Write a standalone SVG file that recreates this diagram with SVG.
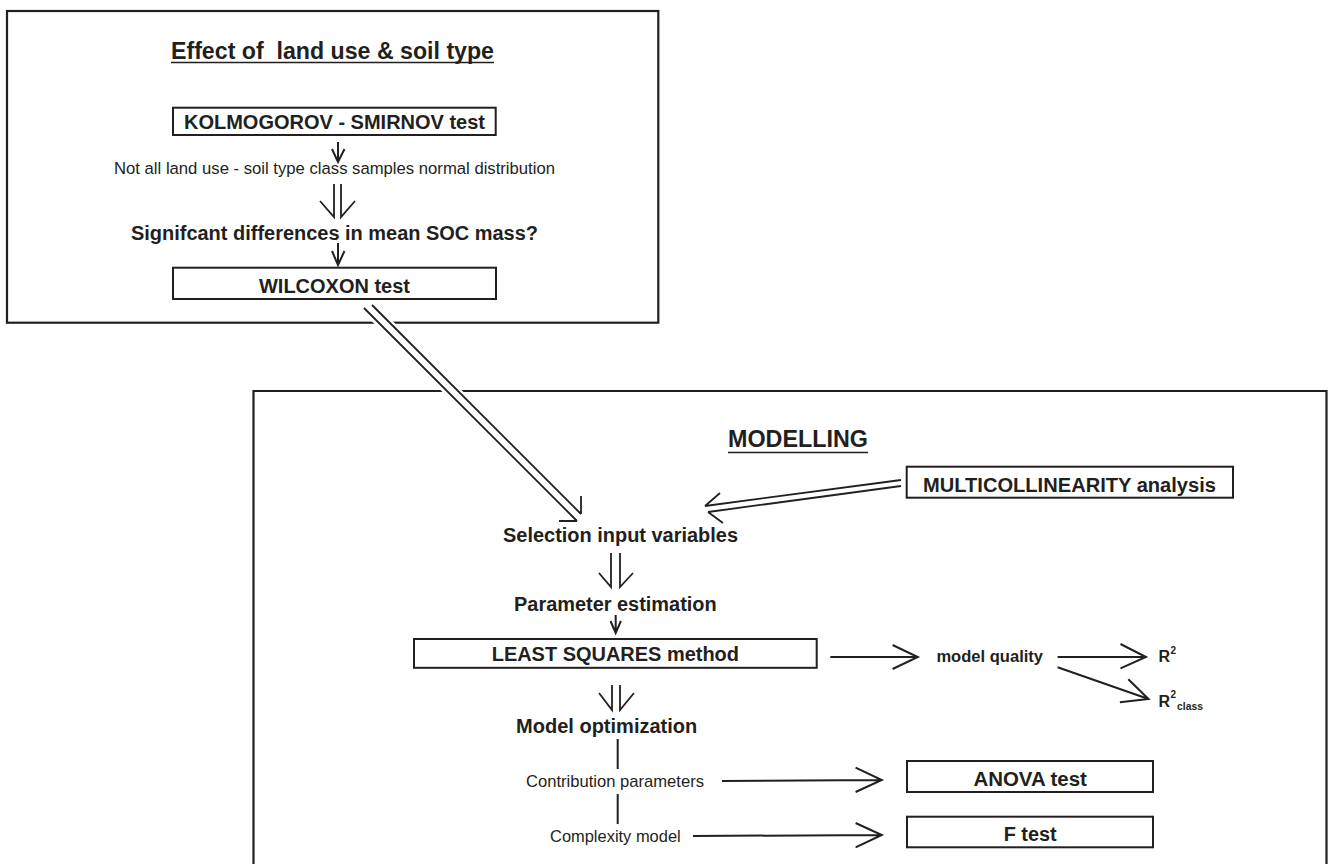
<svg xmlns="http://www.w3.org/2000/svg" width="1328" height="864" viewBox="0 0 1328 864">
<style>
.frame{fill:none;stroke:#231f20;stroke-width:2.2}
.box{fill:#fff;stroke:#231f20;stroke-width:2}
.b{font-family:"Liberation Sans",Arial,sans-serif;font-weight:bold;fill:#231f20;font-size:20px}
.r{font-family:"Liberation Sans",Arial,sans-serif;fill:#231f20;font-size:16.6px}
.ul{stroke:#231f20;stroke-width:1.7}
.ln{fill:none;stroke:#231f20;stroke-width:2}
.dl{fill:none;stroke:#231f20;stroke-width:1.8}
</style>
<rect width="1328" height="864" fill="#fff"/>
<g id="frame-effect">
<rect class="frame" x="7" y="11" width="651.3" height="311.7"/>
<text class="b" x="171" y="59" style="font-size:23px" textLength="323" lengthAdjust="spacingAndGlyphs" xml:space="preserve">Effect of  land use &amp; soil type</text>
<line class="ul" x1="171" y1="62.5" x2="494" y2="62.5"/>
</g>
<g id="frame-modelling">
<path class="frame" d="M253.5,870 V391 H1326.5 V870"/>
<text class="b" x="728" y="447" style="font-size:23px" textLength="140" lengthAdjust="spacingAndGlyphs">MODELLING</text>
<line class="ul" x1="728" y1="452.5" x2="868" y2="452.5"/>
</g>
<g id="node-ks">
<rect class="box" x="173" y="107.7" width="322.7" height="27.3"/>
<text class="b" x="184" y="129" textLength="301" lengthAdjust="spacingAndGlyphs">KOLMOGOROV - SMIRNOV test</text>
</g>
<g id="node-notall">
<text class="r" x="114" y="174" style="font-size:16.7px" textLength="441" lengthAdjust="spacingAndGlyphs">Not all land use - soil type class samples normal distribution</text>
</g>
<g id="node-signif">
<text class="b" x="131" y="240" textLength="407" lengthAdjust="spacingAndGlyphs">Signifcant differences in mean SOC mass?</text>
</g>
<g id="node-wilcoxon">
<rect class="box" x="173" y="267.7" width="323" height="31.3"/>
<text class="b" x="259" y="292.7" textLength="151" lengthAdjust="spacingAndGlyphs">WILCOXON test</text>
</g>
<g id="node-multi">
<rect class="box" x="906.7" y="466.7" width="326.3" height="31"/>
<text class="b" x="923" y="491.7" textLength="293" lengthAdjust="spacingAndGlyphs">MULTICOLLINEARITY analysis</text>
</g>
<g id="node-selection">
<text class="b" x="503" y="541.7" textLength="235" lengthAdjust="spacingAndGlyphs">Selection input variables</text>
</g>
<g id="node-parameter">
<text class="b" x="514" y="610.7" textLength="202.7" lengthAdjust="spacingAndGlyphs">Parameter estimation</text>
</g>
<g id="node-least">
<rect class="box" x="414" y="639" width="402.7" height="28.8"/>
<text class="b" x="491.7" y="660.7" textLength="247.3" lengthAdjust="spacingAndGlyphs">LEAST SQUARES method</text>
</g>
<g id="node-quality">
<text class="b" x="936.4" y="662.3" style="font-size:16.5px" textLength="106.7" lengthAdjust="spacingAndGlyphs">model quality</text>
</g>
<g id="node-r2">
<text class="b" x="1158.6" y="662.3" style="font-size:16px">R<tspan x="1170.4" y="654" style="font-size:10px">2</tspan></text>
</g>
<g id="node-r2class">
<text class="b" x="1158.6" y="707.3" style="font-size:16px">R<tspan x="1170.4" y="698.3" style="font-size:10px">2</tspan><tspan x="1177" y="710" style="font-size:10.4px">class</tspan></text>
</g>
<g id="node-optimization">
<text class="b" x="516" y="732.7" textLength="181.3" lengthAdjust="spacingAndGlyphs">Model optimization</text>
</g>
<g id="node-contribution">
<text class="r" x="526" y="786.7" textLength="178" lengthAdjust="spacingAndGlyphs">Contribution parameters</text>
</g>
<g id="node-complexity">
<text class="r" x="550" y="841.7" textLength="130.7" lengthAdjust="spacingAndGlyphs">Complexity model</text>
</g>
<g id="node-anova">
<rect class="box" x="907" y="761" width="246" height="31"/>
<text class="b" x="973.4" y="786" textLength="113.5" lengthAdjust="spacingAndGlyphs">ANOVA test</text>
</g>
<g id="node-ftest">
<rect class="box" x="907" y="816.7" width="246" height="30.6"/>
<text class="b" x="1003.7" y="841" textLength="53" lengthAdjust="spacingAndGlyphs">F test</text>
</g>
<g id="connectors">
<line x1="370" y1="309" x2="560" y2="499" stroke="#fff" stroke-width="15"/>
<path class="dl" d="M364,308 L577,521 M372,305 L581,514 M581,514 L581,496 M577,521 L559,521"/>
<path class="dl" d="M901,480 L705,506 M901,486 L708,512 M705,506 L720,493 M708,512 L723,523"/>
<path class="dl" d="M334,184 V217 L320,201 M341,184 V217 L355,201"/>
<path class="dl" d="M611,553 V587 L599,573 M620,553 V587 L633,573"/>
<path class="dl" d="M612,685 V710 L599,693 M620,685 V710 L634,693"/>
<path class="ln" d="M338,142 V162 M332,149 L338,162 L344.5,149"/>
<path class="ln" d="M338,243 V265 M332,251 L338,265 L344.5,251"/>
<path class="ln" d="M615.7,615 V633 M610.5,621 L615.7,633 L620.9,621"/>
<path class="ln" d="M830.3,657 H917.8 M892.6,645 L917.8,657 L892.6,669"/>
<path class="ln" d="M1057.6,657 H1146 M1120.5,644 L1146,657 L1120.5,668.3"/>
<path class="ln" d="M1057.6,667.3 L1148.5,699 M1128.3,679.3 L1148.5,699 L1119.9,702.3"/>
<path class="ln" d="M722,781 L881.8,780 M855.6,767.7 L881.8,780 L855.6,792"/>
<path class="ln" d="M693,836 L881.8,835 M855.6,823 L881.8,835 L855.6,847.3"/>
<path class="ln" d="M617.7,739 V769 M617.7,794 V824"/>
</g>
</svg>
